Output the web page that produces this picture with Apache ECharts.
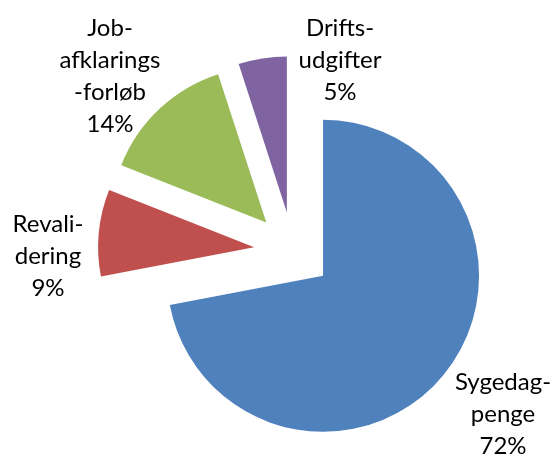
<!DOCTYPE html>
<html>
<head>
<meta charset="utf-8">
<script src="https://cdn.jsdelivr.net/npm/echarts@6/dist/echarts.min.js"></script>
<style>
  html, body { margin: 0; padding: 0; background: #fff; }
  #chart { width: 553px; height: 455px; }
</style>
</head>
<body>
<div id="chart"></div>
<script>
// data
var categories = ["Sygedag-\npenge", "Revali-\ndering", "Job-\nafklarings\n-forløb", "Drifts-\nudgifter"];
var shares = [72, 9, 14, 5];
var colors = ["#4F81BD", "#C0504D", "#9BBB59", "#8064A2"];

// where Excel put the labels (block centres)
var labelAnchors = [[503, 414], [48, 256], [110, 76], [340, 60]];

var chart = echarts.init(document.getElementById("chart"), null, { renderer: "canvas" });

var labelFont = "24px Lato";

var option = {
  animation: false,
  backgroundColor: "#fff",
  // data labels, one per slice, text taken from the data arrays
  graphic: categories.map(function (name, i) {
    return {
      type: "text",
      x: labelAnchors[i][0],
      y: labelAnchors[i][1],
      silent: true,
      style: {
        text: name + "\n" + shares[i] + "%",
        font: labelFont,
        lineHeight: 32,
        fill: "#000",
        align: "center",
        verticalAlign: "middle"
      }
    };
  }),
  series: [
    {
      type: "pie",
      center: [293, 251],
      radius: 156,
      startAngle: 90,
      clockwise: true,
      selectedMode: "multiple",
      selectedOffset: 39,
      emphasis: { disabled: true },
      itemStyle: { borderWidth: 0 },
      label: { show: false },
      labelLine: { show: false },
      data: shares.map(function (v, i) {
        return {
          name: categories[i],
          value: v,
          selected: true,
          itemStyle: { color: colors[i] }
        };
      })
    }
  ]
};

chart.setOption(option);
</script>
</body>
</html>
